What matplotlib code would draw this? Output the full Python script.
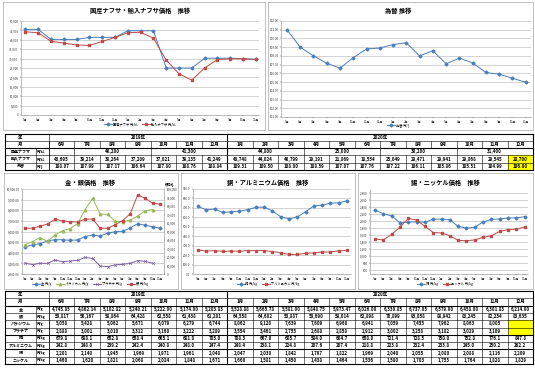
import matplotlib
matplotlib.use('Agg')
import matplotlib.pyplot as plt
from matplotlib.ticker import FuncFormatter, MultipleLocator
from matplotlib.lines import Line2D

plt.rcParams['font.family'] = ['Noto Sans CJK JP', 'DejaVu Sans']

W, H = 535, 369

# ---------------- data ----------------
chart_months = ['5月', '6月', '7月', '8月', '9月', '10月', '11月', '12月', '1月', '2月', '3月',
                '4月', '5月', '6月', '7月', '8月', '9月', '10月', '11月']
table_months = ['6月', '7月', '8月', '9月', '10月', '11月', '12月', '1月', '2月', '3月', '4月',
                '5月', '6月', '7月', '8月', '9月', '10月', '11月', '12月']
years = ['2019年', '2020年']
year_spans = [7, 12]

# naphtha chart series (May 2019 - Nov 2020)
naphtha_dom = [45500, 45500, 40200, 40200, 40200, 41300, 41300, 41300, 44800, 44800, 44800,
               25000, 25000, 25000, 30200, 30200, 30200, 30000, 29600]
naphtha_imp = [44300, 43695, 39214, 38264, 37209, 37021, 39135, 41249, 43748, 44024, 40799,
               29191, 21869, 18554, 25049, 29471, 29941, 29868, 29545]
# naphtha table (Jun 2019 - Dec 2020)
naphtha_dom_spans = [1, 3, 3, 3, 3, 3, 3]
naphtha_dom_quarter = [None, 40200, 41300, 44800, 25000, 30200, 31400]
naphtha_imp_table = [43695, 39214, 38264, 37209, 37021, 39135, 41249, 43748, 44024, 40799,
                     29191, 21869, 18554, 25049, 29471, 29941, 29868, 29545, 28700]

fx_chart = [111.00, 109.00, 108.00, 107.15, 106.60, 107.80, 108.80, 108.90, 109.30, 109.50,
            108.00, 108.60, 107.10, 107.75, 107.20, 106.10, 105.90, 105.45, 104.97]
fx_table = [108.07, 107.99, 107.17, 106.64, 107.80, 108.76, 108.84, 109.31, 109.50, 108.00,
            108.59, 107.07, 107.76, 107.22, 106.11, 105.86, 105.51, 104.99, 106.00]

# metals (May 2019 - Dec 2020); chart uses May 2019 - Nov 2020, table Jun 2019 - Dec 2020
gold = [4560.00, 4745.85, 4862.14, 5102.82, 5240.21, 5222.00, 5174.00, 5203.83, 5528.88, 5665.78,
        5581.00, 5848.75, 5973.47, 6026.00, 6330.85, 6737.05, 6579.00, 6458.00, 6301.83, 6214.00]
silver = [53900, 53817, 56167, 58864, 64428, 62558, 61438, 61201, 64558, 64602,
          53887, 53690, 58014, 62898, 70899, 93058, 88942, 83245, 82254, 83635]
palladium = [4765, 5058, 5428, 5062, 5671, 6079, 6279, 6744, 8062, 9120,
             7639, 7609, 6960, 6941, 7059, 7455, 7962, 8063, 8005, None]
platinum = [3010, 2888, 3001, 3010, 3312, 3160, 3222, 3289, 3554, 3461,
            2755, 2688, 2858, 2912, 3002, 3258, 3182, 3029, 3109, None]
copper = [716.0, 679.8, 688.1, 652.8, 658.4, 665.1, 681.0, 705.0, 708.3, 667.0,
          605.7, 584.0, 604.7, 658.0, 721.4, 728.5, 750.0, 752.8, 776.1, 847.8]
aluminium = [254.0, 242.8, 248.0, 239.2, 242.4, 240.8, 248.0, 247.4, 248.4, 238.1,
             224.8, 207.6, 207.4, 218.8, 223.8, 232.4, 233.8, 245.0, 250.2, 262.2]
tin = [2300, 2201, 2140, 1945, 1969, 1971, 1961, 2048, 2047, 2030,
       1842, 1797, 1822, 1969, 2040, 2055, 2080, 2088, 2116, 2209]
nickel = [1490, 1460, 1620, 1821, 2068, 2024, 1848, 1671, 1660, 1581,
          1450, 1438, 1464, 1536, 1580, 1703, 1753, 1764, 1828, 1829]

BLUE = '#4a7ebb'
RED = '#be4b48'
GREEN = '#98b954'
PURPLE = '#7d60a0'

# ---------------- figure ----------------
fig = plt.figure(figsize=(W / 100, H / 100), dpi=100)
fig.patch.set_facecolor('white')
ov = fig.add_axes([0, 0, 1, 1], zorder=0)
ov.set_xlim(0, W)
ov.set_ylim(H, 0)
ov.axis('off')


def rect(x0, y0, x1, y1, color='#a6a6a6', lw=0.5, fill=None):
    if fill:
        ov.fill([x0, x1, x1, x0], [y0, y0, y1, y1], color=fill, lw=0, zorder=0.5)
    ov.plot([x0, x1, x1, x0, x0], [y0, y0, y1, y1, y0], color=color, lw=lw, zorder=1)


def add_ax(x0, y0, x1, y1):
    ax = fig.add_axes([x0 / W, 1 - y1 / H, (x1 - x0) / W, (y1 - y0) / H], zorder=2)
    ax.patch.set_alpha(0)
    return ax


def style_ax(ax, ylim, ystep, fmt, xlim):
    ax.set_xlim(*xlim)
    ax.set_ylim(*ylim)
    ax.yaxis.set_major_locator(MultipleLocator(ystep))
    ax.yaxis.set_major_formatter(FuncFormatter(fmt))
    ax.set_xticks(range(len(chart_months)))
    ax.set_xticklabels(chart_months)
    ax.tick_params(axis='both', labelsize=2.2, length=1, width=0.3, pad=0.8, colors='#333333')
    ax.grid(axis='y', color='#b0b0b0', lw=0.4)
    ax.set_axisbelow(True)
    for s in ['top', 'right']:
        ax.spines[s].set_visible(False)
    for s in ['left', 'bottom']:
        ax.spines[s].set_color('#888888')
        ax.spines[s].set_linewidth(0.4)


def legend(ax, handles, labels, x, y):
    ax.legend(handles, labels, loc='center', bbox_to_anchor=(x / W, 1 - y / H),
              bbox_transform=fig.transFigure, ncol=len(handles), fontsize=2.3, frameon=False,
              handlelength=2.5, handletextpad=0.3, columnspacing=1.5, borderpad=0)


def title(x, y, s):
    ov.text(x, y, s, fontsize=4.5, fontweight='bold', ha='center', va='center')


LW = 0.7
MS = 1.8
idx = list(range(len(chart_months)))
n = len(chart_months)

# ---- top-left: naphtha ----
rect(3, 2, 265, 130)
title(140, 11, '国産ナフサ・輸入ナフサ価格　推移')
ax1 = add_ax(21, 21, 259, 115)
style_ax(ax1, (0, 50000), 5000, lambda v, p: f'{v:,.0f}', (-0.35, 18.25))
h1, = ax1.plot(idx, naphtha_dom, color=BLUE, lw=LW, marker='D', ms=MS - 0.3)
h2, = ax1.plot(idx, naphtha_imp, color=RED, lw=LW, marker='s', ms=MS)
legend(ax1, [h1, h2], ['国産ナフサ 円/kL', '輸入ナフサ 円/kL'], 140, 124)

# ---- top-right: exchange rate ----
rect(268, 2, 533, 130)
title(398, 11, '為替 推移')
ax2 = add_ax(281, 21, 531, 117)
style_ax(ax2, (101, 112), 1, lambda v, p: f'{v:.2f}', (-0.45, 18.4))
h3, = ax2.plot(idx, fx_chart, color=BLUE, lw=LW, marker='D', ms=MS - 0.3)
legend(ax2, [h3], ['為替 円/$'], 398, 125)

# ---- bottom-left: gold / silver ----
rect(4, 173, 178, 289)
title(90, 183, '金・銀価格　推移')
ax3 = add_ax(22, 189, 164, 274)
style_ax(ax3, (2000, 10000), 1000, lambda v, p: f'{v:,.2f}', (-0.4, 18.5))
g1, = ax3.plot(idx, gold[:n], color=BLUE, lw=LW, marker='D', ms=MS - 0.3)
g2, = ax3.plot(idx[:18], palladium[:18], color=GREEN, lw=LW, marker='^', ms=MS)
g3, = ax3.plot(idx[:18], platinum[:18], color=PURPLE, lw=LW, marker='x', ms=MS, mew=0.5)
ax3r = ax3.twinx()
ax3r.set_ylim(0, 100000)
ax3r.yaxis.set_major_locator(MultipleLocator(10000))
ax3r.yaxis.set_major_formatter(FuncFormatter(lambda v, p: f'{v:,.0f}'))
ax3r.tick_params(axis='y', labelsize=2.2, length=1, width=0.3, pad=0.8, colors='#333333')
for s in ['top', 'left', 'bottom']:
    ax3r.spines[s].set_visible(False)
ax3r.spines['right'].set_color('#888888')
ax3r.spines['right'].set_linewidth(0.4)
g4, = ax3r.plot(idx, silver[:n], color=RED, lw=LW, marker='s', ms=MS)
ov.text(170, 184, '銀価格', fontsize=2.3, ha='center', va='center')
legend(ax3, [g1, g2, g3, g4], ['金 円/g', 'パラジウム 円/g', 'プラチナ 円/g', '銀 円/kg'], 90, 284)

# ---- bottom-middle: copper / aluminium ----
rect(181, 173, 355, 289)
title(268, 183, '銅・アルミニウム価格　推移')
ax4 = add_ax(193, 189, 351, 274)
style_ax(ax4, (0, 900), 100, lambda v, p: f'{v:.1f}', (-0.6, 18.5))
c1, = ax4.plot(idx, copper[:n], color=BLUE, lw=LW, marker='D', ms=MS - 0.3)
c2, = ax4.plot(idx, aluminium[:n], color=RED, lw=LW, marker='s', ms=MS)
legend(ax4, [c1, c2], ['銅 円/kg', 'アルミニウム 円/kg'], 268, 284)

# ---- bottom-right: tin / nickel ----
rect(358, 173, 533, 289)
title(445, 183, '錫・ニッケル価格　推移')
ax5 = add_ax(370, 189, 528, 274)
style_ax(ax5, (500, 2900), 200, lambda v, p: f'{v:,.0f}', (-0.6, 18.4))
t1, = ax5.plot(idx, tin[:n], color=BLUE, lw=LW, marker='D', ms=MS - 0.3)
t2, = ax5.plot(idx, nickel[:n], color=RED, lw=LW, marker='s', ms=MS)
legend(ax5, [t1, t2], ['錫 円/kg', 'ニッケル 円/kg'], 445, 284)

# ---------------- tables ----------------
X0, XL, XU, XR = 5, 36, 49, 533
CW = (XR - XU) / len(table_months)
FS = 3.2


def cx(i):
    return XU + (i + 0.5) * CW


def ex(i):
    return XU + i * CW


def txt(x, y, s, fs=FS, ha='center'):
    ov.text(x, y, s, fontsize=fs, fontweight='bold', ha=ha, va='center', zorder=3)


def hline(y, x0=X0, x1=XR, lw=0.4):
    ov.plot([x0, x1], [y, y], color='black', lw=lw, zorder=2)


def vline(x, y0, y1, lw=0.4):
    ov.plot([x, x], [y0, y1], color='black', lw=lw, zorder=2)


def header_rows(y0, rh):
    # year row
    txt((X0 + XL) / 2, y0 + rh / 2, '年')
    start = 0
    for yname, span in zip(years, year_spans):
        txt((ex(start) + ex(start + span)) / 2, y0 + rh / 2, yname)
        start += span
    # month row
    txt((X0 + XL) / 2, y0 + 1.5 * rh, '月')
    for i, m in enumerate(table_months):
        txt(cx(i), y0 + 1.5 * rh, m)
        vline(ex(i), y0 + rh, y0 + 2 * rh)
    vline(ex(7), y0, y0 + 2 * rh, lw=0.8)


def fmt_int(v):
    return '' if v is None else f'{v:,.0f}'


def data_row(y, rh, label, unit, values, fmt, yellow=()):
    ym = y + rh / 2
    for i in yellow:
        ov.fill([ex(i), ex(i + 1), ex(i + 1), ex(i)], [y, y, y + rh, y + rh],
                color='#ffff00', lw=0, zorder=0.5)
    txt((X0 + XL) / 2, ym, label, fs=2.9)
    txt(XL + 1.2, ym, unit, fs=2.4, ha='left')
    vline(XL, y, y + rh)
    for i, v in enumerate(values):
        txt(cx(i), ym, fmt(v))
        vline(ex(i), y, y + rh, lw=0.8 if i == 7 else 0.4)


# top table
TY0, TRH = 133.5, 7.3
header_rows(TY0, TRH)
# domestic naphtha (merged quarters)
y = TY0 + 2 * TRH
txt((X0 + XL) / 2, y + TRH / 2, '国産ナフサ', fs=2.9)
txt(XL + 1.2, y + TRH / 2, '円/kL', fs=2.4, ha='left')
vline(XL, y, y + TRH)
start = 0
for span, v in zip(naphtha_dom_spans, naphtha_dom_quarter):
    vline(ex(start), y, y + TRH, lw=0.8 if start == 7 else 0.4)
    txt((ex(start) + ex(start + span)) / 2, y + TRH / 2, fmt_int(v))
    start += span
data_row(TY0 + 3 * TRH, TRH, '輸入ナフサ', '円/kL', naphtha_imp_table, fmt_int, yellow=(18,))
data_row(TY0 + 4 * TRH, TRH, '為替', '円/$', fx_table, lambda v: f'{v:.2f}', yellow=(18,))
for r in range(6):
    hline(TY0 + r * TRH, lw=0.8 if r in (0, 2, 5) else 0.4)
vline(X0, TY0, TY0 + 5 * TRH, lw=0.8)
vline(XU, TY0, TY0 + 5 * TRH)
vline(XR, TY0, TY0 + 5 * TRH, lw=0.8)

# bottom table
BY0, BRH = 291.0, 7.3
header_rows(BY0, BRH)
rows = [
    ('金', '円/g', gold[1:], lambda v: f'{v:,.2f}', ()),
    ('銀', '円/kg', silver[1:], fmt_int, ()),
    ('パラジウム', '円/g', palladium[1:], fmt_int, (18,)),
    ('プラチナ', '円/g', platinum[1:], fmt_int, (18,)),
    ('銅', '円/kg', copper[1:], lambda v: f'{v:.1f}', ()),
    ('アルミニウム', '円/kg', aluminium[1:], lambda v: f'{v:.1f}', ()),
    ('錫', '円/kg', tin[1:], fmt_int, ()),
    ('ニッケル', '円/kg', nickel[1:], fmt_int, ()),
]
for k, (lab, unit, vals, f, yel) in enumerate(rows):
    data_row(BY0 + (k + 2) * BRH, BRH, lab, unit, vals, f, yellow=yel)
for r in range(11):
    hline(BY0 + r * BRH, lw=0.8 if r in (0, 2, 6, 8, 10) else 0.4)
vline(X0, BY0, BY0 + 10 * BRH, lw=0.8)
vline(XU, BY0, BY0 + 10 * BRH)
vline(XR, BY0, BY0 + 10 * BRH, lw=0.8)

fig.savefig('out.png', dpi=100, facecolor='white')
